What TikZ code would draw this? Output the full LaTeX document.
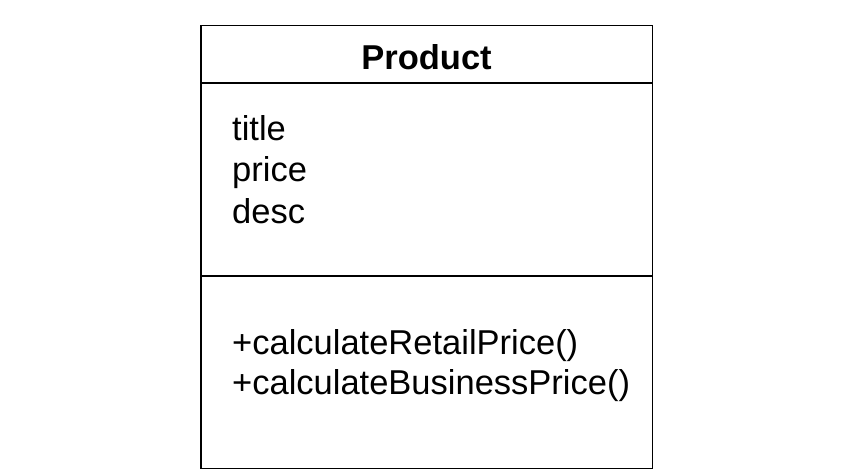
\documentclass[tikz,border=0pt]{standalone}
\usepackage{fontspec}
\setmainfont{Liberation Sans}
\begin{document}
\begin{tikzpicture}[x=1pt,y=-1pt,
  part/.style={draw=black,line width=1.6pt,inner sep=0pt,outer sep=0pt,anchor=north west,minimum width=451.5pt},
  member/.style={anchor=base west,inner sep=0pt,font=\fontsize{34.5}{41}\selectfont},
  classname/.style={anchor=base,inner sep=0pt,font=\fontsize{34.5}{41}\selectfont\bfseries}]
\useasboundingbox (0,0) rectangle (859,476);
\node[part,minimum height=57.6pt] (head) at (201,25.7) {};
\node[part,minimum height=192.4pt] (attrs) at (201,83.3) {};
\node[part,minimum height=192.6pt] (meths) at (201,275.7) {};
\node[classname] (name) at (426.5,69.3) {Product};
\node[member] (a1) at (232,140) {title};
\node[member] (a2) at (232,181.7) {price};
\node[member] (a3) at (232,223.3) {desc};
\node[member] (m1) at (232,354) {+calculateRetailPrice()};
\node[member] (m2) at (232,394.5) {+calculateBusinessPrice()};
\end{tikzpicture}
\end{document}
